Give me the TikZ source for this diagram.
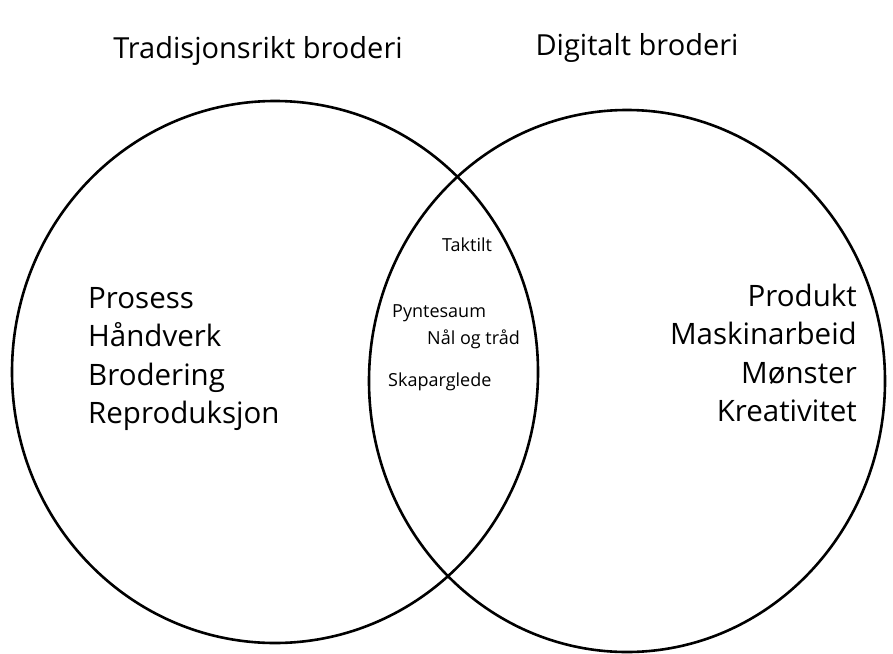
\documentclass[tikz,border=0pt]{standalone}
\usepackage{fontspec}
\setmainfont{Open Sans}
\usetikzlibrary{positioning}

\begin{document}
\begin{tikzpicture}[
    x=1pt, y=-1pt,
    ring/.style={draw=black, line width=2.6pt},
    heading/.style={font=\fontsize{29}{34}\selectfont, inner sep=0pt},
    keyword/.style={font=\fontsize{29.5}{36}\selectfont, inner sep=0pt},
    shared/.style={font=\fontsize{18}{21}\selectfont, inner sep=0pt},
]
    \useasboundingbox (0,0) rectangle (893,653);

    % Two circles (slightly oval)
    \draw[ring] (275,372) ellipse [x radius=263, y radius=271];
    \draw[ring] (627,381) ellipse [x radius=258, y radius=271];

    % Headings
    \node[heading, anchor=base] (tradtitle) at (258,58) {Tradisjonsrikt broderi};
    \node[heading, anchor=base] (digititle) at (637,55) {Digitalt broderi};

    % Left set
    \node[keyword, anchor=base west] (prosess) at (88,308) {Prosess};
    \node[keyword, anchor=base west] (handverk) at (88,346.5) {Håndverk};
    \node[keyword, anchor=base west] (brodering) at (88,385) {Brodering};
    \node[keyword, anchor=base west] (reprod) at (88,423.5) {Reproduksjon};

    % Right set
    \node[keyword, anchor=base east] (produkt) at (857,306) {Produkt};
    \node[keyword, anchor=base east] (maskin) at (857,344.5) {Maskinarbeid};
    \node[keyword, anchor=base east] (monster) at (857,383) {Mønster};
    \node[keyword, anchor=base east] (kreativ) at (857,421.5) {Kreativitet};

    % Overlap
    \node[shared, anchor=base west] (taktilt) at (442,251) {Taktilt};
    \node[shared, anchor=base west] (pyntesaum) at (392,317) {Pyntesaum};
    \node[shared, anchor=base west] (naal) at (427,344) {Nål og tråd};
    \node[shared, anchor=base west] (skapar) at (388,386) {Skaparglede};
\end{tikzpicture}
\end{document}
